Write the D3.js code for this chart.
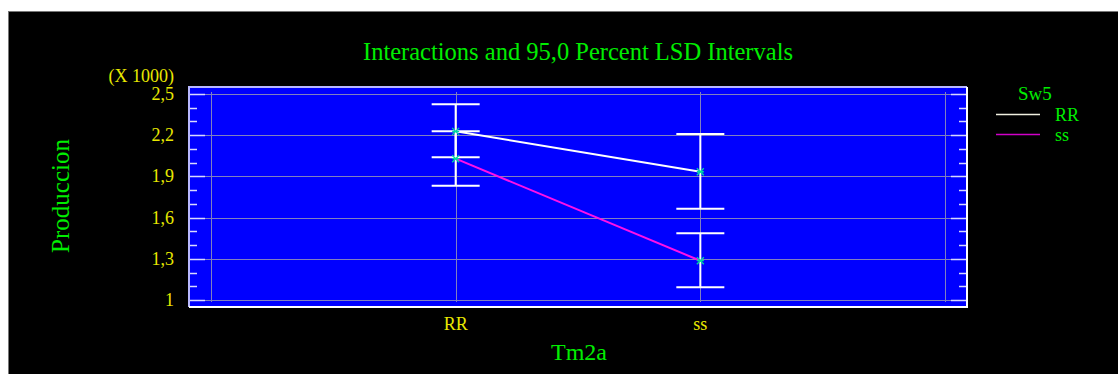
<!DOCTYPE html>
<html>
<head>
<meta charset="utf-8">
<script src="https://cdn.jsdelivr.net/npm/d3@7"></script>
<style>
  body { margin: 0; background: #fff; }
</style>
</head>
<body>
<div id="chart"></div>
<script>
// data (values in units of 1000)
const groups = ["RR", "ss"];
const seriesNames = ["RR", "ss"];
const means = [[2.228, 1.934], [2.029, 1.286]];
const lower = [[2.040, 1.665], [1.832, 1.092]];
const upper = [[2.425, 2.209], [2.228, 1.486]];
const yTicks = [1.0, 1.3, 1.6, 1.9, 2.2, 2.5];
const seriesColors = ["#ffffff", "#ff10e8"];

const width = 1118;
const height = 374;
const plotLeft = 189, plotRight = 967, plotTop = 87, plotBottom = 307;
const serif = "'Liberation Serif', 'Times New Roman', Times, serif";

const svg = d3.select("#chart").append("svg")
    .attr("width", width)
    .attr("height", height)
    .attr("font-family", serif);

// outer black panel
svg.append("rect")
    .attr("x", 8.5).attr("y", 11.5)
    .attr("width", width).attr("height", height)
    .attr("fill", "#000")
    .attr("stroke", "#777");

const x = d3.scaleLinear().domain([0, groups.length + 1]).range([211, 945]);
const y = d3.scaleLinear().domain([1.0, 2.5]).range([300, 94]);

// plot area
svg.append("rect")
    .attr("x", plotLeft).attr("y", plotTop)
    .attr("width", plotRight - plotLeft).attr("height", plotBottom - plotTop)
    .attr("fill", "#0000ff");

// gridlines
const grid = svg.append("g").attr("stroke", "#8080c0").attr("stroke-width", 1);
grid.selectAll(".hg").data(yTicks).join("line")
    .attr("x1", plotLeft).attr("x2", plotRight)
    .attr("y1", d => Math.round(y(d)) + 0.5).attr("y2", d => Math.round(y(d)) + 0.5);
grid.selectAll(".vg").data(d3.range(0, groups.length + 2)).join("line")
    .attr("x1", d => Math.round(x(d)) + 0.5).attr("x2", d => Math.round(x(d)) + 0.5)
    .attr("y1", 92).attr("y2", 302);

// ticks inside, left and right
const minorTicks = d3.range(1.0, 2.5001, 0.1).filter(v => !yTicks.some(t => Math.abs(t - v) < 1e-6));
const tickG = svg.append("g").attr("stroke", "#d8d8ff").attr("stroke-width", 1.5);
yTicks.forEach(v => {
  const yy = Math.round(y(v)) + 0.5;
  tickG.append("line").attr("x1", plotLeft).attr("x2", plotLeft + 16).attr("y1", yy).attr("y2", yy);
  tickG.append("line").attr("x1", plotRight).attr("x2", plotRight - 16).attr("y1", yy).attr("y2", yy);
});
minorTicks.forEach(v => {
  const yy = Math.round(y(v)) + 0.5;
  tickG.append("line").attr("x1", plotLeft).attr("x2", plotLeft + 8).attr("y1", yy).attr("y2", yy);
  tickG.append("line").attr("x1", plotRight).attr("x2", plotRight - 8).attr("y1", yy).attr("y2", yy);
});

// frame
svg.append("path")
    .attr("d", `M${plotLeft},${plotBottom} V${plotTop} H${plotRight}`)
    .attr("fill", "none").attr("stroke", "#b8b8ff").attr("stroke-width", 2);
svg.append("path")
    .attr("d", `M${plotRight},${plotTop} V${plotBottom} H${plotLeft}`)
    .attr("fill", "none").attr("stroke", "#ffffff").attr("stroke-width", 2);

// error bars
const capHalf = 24;
const bars = svg.append("g").attr("stroke", "#fff").attr("stroke-width", 2);
seriesNames.forEach((s, si) => {
  groups.forEach((g, gi) => {
    const cx = x(gi + 1);
    bars.append("line").attr("x1", cx).attr("x2", cx)
        .attr("y1", y(lower[si][gi])).attr("y2", y(upper[si][gi]));
    [lower[si][gi], upper[si][gi]].forEach(v => {
      bars.append("line").attr("x1", cx - capHalf).attr("x2", cx + capHalf)
          .attr("y1", y(v)).attr("y2", y(v));
    });
  });
});

// series lines
const line = d3.line().x((d, i) => x(i + 1)).y(d => y(d));
seriesNames.forEach((s, si) => {
  svg.append("path")
      .attr("d", line(means[si]))
      .attr("fill", "none")
      .attr("stroke", seriesColors[si])
      .attr("stroke-width", 2);
});

// markers
const markerG = svg.append("g").attr("stroke", "#00d8a0").attr("stroke-width", 1.3);
seriesNames.forEach((s, si) => {
  means[si].forEach((v, gi) => {
    const cx = x(gi + 1), cy = y(v), r = 3.5;
    markerG.append("path")
        .attr("d", `M${cx - r},${cy - r}L${cx + r},${cy + r}M${cx - r},${cy + r}L${cx + r},${cy - r}M${cx - r},${cy}H${cx + r}`)
        .attr("fill", "none");
  });
});

// axis labels
const yellow = "#e8e800", green = "#00ee00";
svg.selectAll(".ylab").data(yTicks).join("text")
    .attr("x", 174).attr("y", d => y(d) + 6)
    .attr("text-anchor", "end")
    .attr("font-size", 18).attr("fill", yellow)
    .text(d => d3.format(".1f")(d).replace(".", ",").replace(",0", ""));
svg.append("text")
    .attr("x", 174).attr("y", 82)
    .attr("text-anchor", "end")
    .attr("font-size", 18).attr("fill", yellow)
    .text("(X 1000)");
svg.selectAll(".xlab").data(groups).join("text")
    .attr("x", (d, i) => x(i + 1)).attr("y", 330)
    .attr("text-anchor", "middle")
    .attr("font-size", 18).attr("fill", yellow)
    .text(d => d);

svg.append("text")
    .attr("x", 578).attr("y", 60)
    .attr("text-anchor", "middle")
    .attr("font-size", 24.5).attr("fill", green)
    .text("Interactions and 95,0 Percent LSD Intervals");
svg.append("text")
    .attr("x", 579).attr("y", 360)
    .attr("text-anchor", "middle")
    .attr("font-size", 24).attr("fill", green)
    .text("Tm2a");
svg.append("text")
    .attr("transform", "translate(69,196) rotate(-90)")
    .attr("text-anchor", "middle")
    .attr("font-size", 25).attr("fill", green)
    .text("Produccion");

// legend
svg.append("text")
    .attr("x", 1018).attr("y", 100)
    .attr("font-size", 19).attr("fill", green)
    .text("Sw5");
const legendColors = ["#f0f0e0", "#d000c8"];
seriesNames.forEach((s, si) => {
  const ly = 114.5 + si * 20;
  svg.append("line")
      .attr("x1", 996).attr("x2", 1040).attr("y1", ly).attr("y2", ly)
      .attr("stroke", legendColors[si]).attr("stroke-width", 1.5);
  svg.append("text")
      .attr("x", 1055).attr("y", ly + 6)
      .attr("font-size", 18).attr("fill", green)
      .text(s);
});
</script>
</body>
</html>
